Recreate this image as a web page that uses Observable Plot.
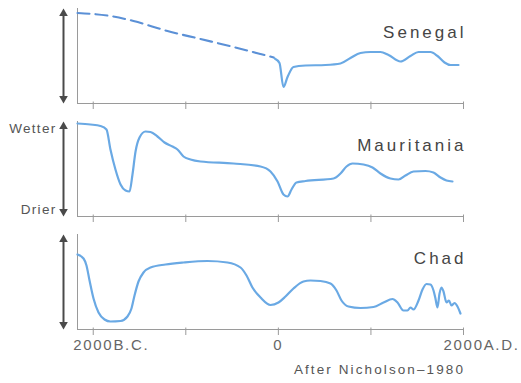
<!DOCTYPE html>
<html><head><meta charset="utf-8">
<script src="https://cdn.jsdelivr.net/npm/d3@7"></script>
<script src="https://cdn.jsdelivr.net/npm/@observablehq/plot@0.6"></script>
<style>
body{margin:0;background:#fff;}
#wrap{position:relative;width:521px;height:383px;font-family:"Liberation Sans",Arial,sans-serif;}
#caption{position:absolute;right:56px;top:362px;font-size:13.5px;line-height:16px;letter-spacing:2.1px;color:#555;white-space:nowrap;}
</style></head><body><div id="wrap"><div id="chart"></div><div id="caption"></div></div>
<script>
const regions = ["Senegal", "Mauritania", "Chad"];
const xStart = -2170, xEnd = 2000;
const tickYears = [-2000, -1000, 0, 1000, 2000];
const labelYears = [-2000, 0, 2000];
const labelTexts = ["2000B.C.", "0", "2000A.D."];
const scaleLabels = ["Wetter", "Drier"];
const source = "After Nicholson–1980";

// Senegal: inferred (dashed) part, then record
const senegalProjYears = [-2170, -1815, -1565, -1198, -841, -485, -193, -50];
const senegalProjValues = [90.5, 87.5, 82.5, 72.5, 64.5, 56.5, 49.5, 46];
const senegalYears = [-40, 12, 55, 99, 163, 293, 509, 671, 779, 887, 995, 1103, 1190, 1319, 1427, 1514, 1643, 1719, 1795, 1860, 1946];
const senegalValues = [45, 40.5, 16.5, 26.5, 36.5, 38, 38.5, 40, 45.5, 50.5, 51.5, 51.5, 48.5, 42, 47.5, 51.5, 51.5, 47.5, 41, 38.5, 38.5];

const mauritaniaYears = [-2170, -2030, -1922, -1857, -1814, -1760, -1705, -1651, -1608, -1576, -1543, -1500, -1435, -1381, -1306, -1230, -1144, -1090, -1025, -949, -841, -485, -193, -85, -9, 55, 99, 142, 196, 293, 596, 671, 736, 801, 920, 1017, 1103, 1211, 1298, 1373, 1460, 1589, 1676, 1752, 1816, 1881];
const mauritaniaValues = [93, 92, 90.5, 87, 67, 47, 32, 26, 25, 42, 65, 79, 85, 84.5, 80, 74, 70, 67, 60, 57, 55, 53, 50, 45, 35, 22, 20, 27, 34, 35.5, 38, 43, 50, 53, 52, 49, 43, 38, 37, 41, 45, 45.5, 44, 39, 36, 35];

const chadYears = [-2170, -2105, -2073, -2040, -1997, -1943, -1878, -1814, -1705, -1630, -1587, -1554, -1511, -1457, -1381, -1219, -1025, -766, -550, -409, -344, -280, -193, -85, 1, 77, 163, 271, 347, 455, 563, 628, 682, 757, 887, 1028, 1136, 1233, 1287, 1352, 1395, 1427, 1460, 1514, 1557, 1600, 1643, 1676, 1697, 1719, 1741, 1762, 1784, 1816, 1843, 1870, 1903, 1935, 1967];
const chadValues = [75, 71, 64, 49, 31, 17, 10, 8, 8.5, 13, 21, 34, 48, 57, 62, 65, 67, 68.5, 67, 62, 54, 42, 32, 24.5, 27, 33, 41, 48, 49, 48.5, 46, 39, 29, 23, 21.5, 22.5, 27, 30.5, 27, 19, 19, 22, 20, 29, 40, 45.5, 45, 39, 31, 22, 36, 42, 38, 27, 29, 24, 26.5, 23, 16];

const rows = (region, ys, vs) => ys.map((year, i) => ({region, year, value: vs[i]}));
const projected = rows("Senegal", senegalProjYears, senegalProjValues);
const records = [
  ...rows("Senegal", senegalYears, senegalValues),
  ...rows("Mauritania", mauritaniaYears, mauritaniaValues),
  ...rows("Chad", chadYears, chadValues)
];
const yearLabels = labelYears.map((year, i) => ({year, text: labelTexts[i]}));
const lastRegion = regions[regions.length - 1];

const axisColor = "#9a9a9a";
const arrowColor = "#4a4a4a";
const lineColor = "#6aa9e4";

const chart = Plot.plot({
  width: 521,
  height: 352,
  marginLeft: 77,
  marginRight: 58,
  marginTop: 8,
  marginBottom: 23,
  style: {fontFamily: "'Liberation Sans', Arial, sans-serif", background: "#fff"},
  x: {domain: [xStart, xEnd], axis: null},
  y: {domain: [0, 95], axis: null},
  fy: {domain: regions, axis: null, paddingInner: 0.16, paddingOuter: 0},
  marks: [
    Plot.ruleY([0], {stroke: axisColor, strokeWidth: 1}),
    Plot.ruleX([xStart], {stroke: axisColor, strokeWidth: 1}),
    Plot.ruleX(tickYears, {x: d => d, y1: 1.5, y2: -6, stroke: axisColor, strokeWidth: 1}),
    // double arrows
    Plot.ruleX([xStart], {dx: -14, insetTop: 5, insetBottom: 5, stroke: arrowColor, strokeWidth: 2}),
    Plot.dot([0], {frameAnchor: "top-left", dx: -14, dy: 5, symbol: "triangle", r: 3.2, fill: arrowColor, stroke: "none"}),
    Plot.dot([0], {frameAnchor: "bottom-left", dx: -14, dy: -5, symbol: "triangle", rotate: 180, r: 3.2, fill: arrowColor, stroke: "none"}),
    // curves
    Plot.line(projected, {x: "year", y: "value", fy: "region", curve: "monotone-x", stroke: "#5b90d6", strokeWidth: 2.1, strokeDasharray: "12,6"}),
    Plot.line(records, {x: "year", y: "value", fy: "region", z: "region", curve: "monotone-x", stroke: lineColor, strokeWidth: 2.2}),
    // region names
    Plot.text(regions, {fy: d => d, text: d => d, frameAnchor: "top-right", textAnchor: "end", lineAnchor: "bottom", dx: 3, dy: 29, fontSize: 17, fill: "#454545"}),
    // Wetter / Drier
    Plot.text([scaleLabels[0]], {fy: () => regions[1], text: d => d, frameAnchor: "top-left", textAnchor: "end", lineAnchor: "middle", dx: -21, dy: 7, fontSize: 13.5, fill: "#555"}),
    Plot.text([scaleLabels[1]], {fy: () => regions[1], text: d => d, frameAnchor: "bottom-left", textAnchor: "end", lineAnchor: "middle", dx: -21, dy: -7, fontSize: 13.5, fill: "#555"}),
    // year labels
    Plot.text(yearLabels.filter(d => d.year !== 0), {fy: () => lastRegion, x: "year", text: "text", frameAnchor: "bottom", textAnchor: "start", lineAnchor: "bottom", dx: -20, dy: 20, fontSize: 15, fill: "#666"}),
    Plot.text(yearLabels.filter(d => d.year === 0), {fy: () => lastRegion, x: "year", text: "text", frameAnchor: "bottom", textAnchor: "middle", lineAnchor: "bottom", dy: 20, fontSize: 15, fill: "#666"})
  ]
});

const svg = d3.select(chart);
svg.selectAll("text").each(function() {
  const t = this.textContent;
  let ls = "1.3px";
  if (regions.includes(t)) ls = "3px";
  else if (labelTexts.includes(t)) ls = "1.7px";
  d3.select(this).attr("letter-spacing", ls);
});
document.getElementById("chart").append(chart);
document.getElementById("caption").textContent = source;
</script>
</body></html>
